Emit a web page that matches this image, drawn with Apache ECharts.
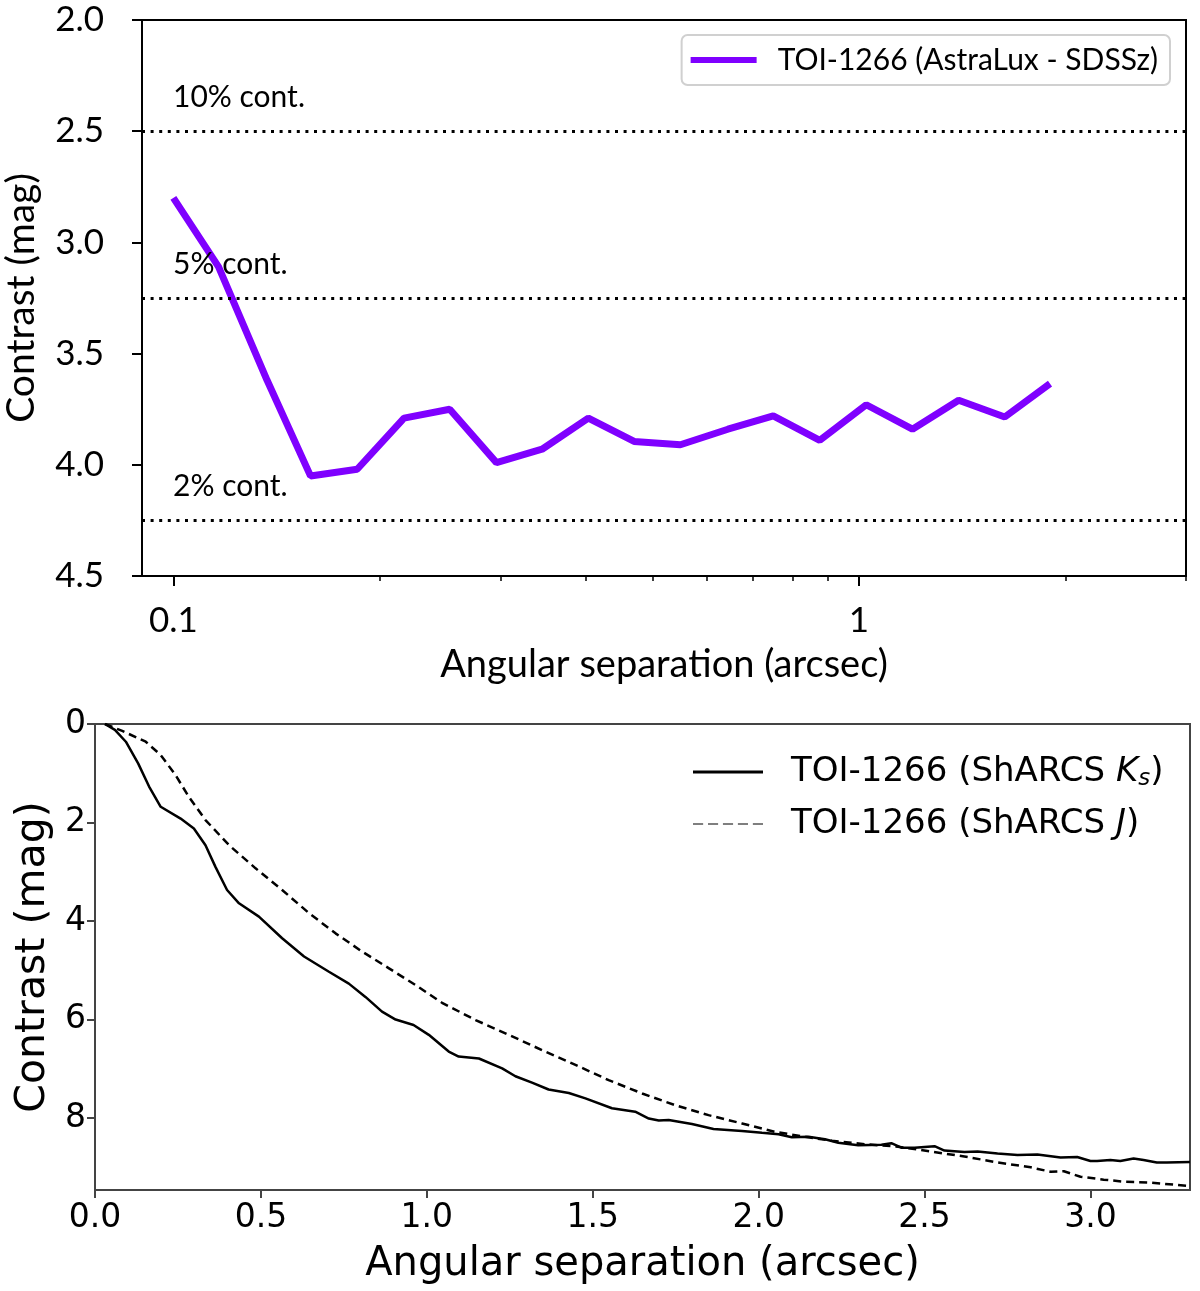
<!DOCTYPE html>
<html>
<head>
<meta charset="utf-8">
<script src="https://cdn.jsdelivr.net/npm/echarts@6/dist/echarts.min.js"></script>
<style>
html, body { margin: 0; background: #fff; }
#chart { width: 1200px; height: 1291px; }
</style>
</head>
<body>
<div id="chart"></div>
<script>
// AstraLux (top panel)
const astraSep = [0.100, 0.1164, 0.137, 0.1585, 0.1854, 0.217, 0.253, 0.296, 0.345, 0.403,
    0.470, 0.549, 0.644, 0.750, 0.877, 1.025, 1.197, 1.398, 1.632, 1.90];
const astraContrast = [2.80, 3.11, 3.62, 4.05, 4.02, 3.79, 3.75, 3.99, 3.93, 3.79,
    3.895, 3.91, 3.84, 3.78, 3.89, 3.73, 3.84, 3.71, 3.785, 3.635];
const contLevels = [2.5, 3.25, 4.25];
const contNames = ['10% cont.', '5% cont.', '2% cont.'];
const topMajorTicks = [0.1, 1];
const topMajorLabels = ['0.1', '1'];
const topMinorTicks = [0.2, 0.3, 0.4, 0.5, 0.6, 0.7, 0.8, 0.9, 2, 3];
const topYTicks = [2.0, 2.5, 3.0, 3.5, 4.0, 4.5];

// ShARCS (bottom panel)
const ksSep = [0.03, 0.06, 0.093, 0.13, 0.163, 0.198, 0.258, 0.298, 0.333, 0.363, 0.398, 0.434,
    0.494, 0.564, 0.63, 0.705, 0.765, 0.815, 0.865, 0.906, 0.96, 1.006, 1.066, 1.096, 1.157,
    1.227, 1.267, 1.317, 1.367, 1.428, 1.478, 1.558, 1.628, 1.669, 1.699, 1.729, 1.799, 1.864,
    1.95, 2.01, 2.06, 2.10, 2.15, 2.20, 2.24, 2.30, 2.37, 2.40, 2.43, 2.47, 2.53, 2.56, 2.62,
    2.66, 2.72, 2.78, 2.84, 2.91, 2.96, 3.00, 3.02, 3.06, 3.09, 3.13, 3.16, 3.20, 3.23, 3.30];
const ksContrast = [0, 0.12, 0.36, 0.80, 1.27, 1.68, 1.92, 2.12, 2.46, 2.90, 3.37, 3.64,
    3.91, 4.35, 4.72, 5.03, 5.27, 5.54, 5.84, 6.0, 6.11, 6.31, 6.65, 6.75, 6.79,
    6.99, 7.15, 7.28, 7.42, 7.49, 7.60, 7.80, 7.87, 8.01, 8.05, 8.04, 8.12, 8.22,
    8.26, 8.30, 8.33, 8.39, 8.38, 8.43, 8.50, 8.55, 8.54, 8.51, 8.60, 8.60, 8.57, 8.66, 8.69,
    8.68, 8.72, 8.75, 8.74, 8.80, 8.79, 8.87, 8.87, 8.85, 8.87, 8.82, 8.85, 8.90, 8.90, 8.89];
const jSep = [0.03, 0.082, 0.153, 0.198, 0.243, 0.283, 0.333, 0.404, 0.484, 0.564, 0.645,
    0.725, 0.805, 0.886, 0.966, 1.046, 1.147, 1.247, 1.347, 1.448, 1.548, 1.649, 1.749,
    1.849, 1.95, 2.05, 2.14, 2.22, 2.32, 2.42, 2.52, 2.62, 2.72, 2.82, 2.88, 2.92, 2.97,
    3.04, 3.10, 3.18, 3.30];
const jContrast = [0, 0.14, 0.36, 0.63, 1.04, 1.48, 1.95, 2.46, 2.93, 3.37, 3.84,
    4.25, 4.62, 4.96, 5.30, 5.66, 6.01, 6.31, 6.62, 6.92, 7.23, 7.50, 7.74,
    7.94, 8.11, 8.28, 8.38, 8.46, 8.53, 8.58, 8.68, 8.78, 8.90, 9.00, 9.09, 9.08, 9.19,
    9.25, 9.29, 9.31, 9.38];
const botXTicks = [0, 0.5, 1.0, 1.5, 2.0, 2.5, 3.0];
const botYTicks = [0, 2, 4, 6, 8];

const zip = (xs, ys) => xs.map((x, i) => [x, ys[i]]);
const topFont = 'Lato';
const botFont = 'DejaVu Sans';
// five short dashes for the J legend sample
const dashIcon = 'path://M0,0h10v1h-10z M14.75,0h10v1h-10z M29.5,0h10v1h-10z M44.25,0h10v1h-10z M59,0h10v1h-10z';

const chart = echarts.init(document.getElementById('chart'));

const option = {
    animation: false,
    backgroundColor: '#fff',
    grid: [
        { left: 142, top: 20, width: 1044, height: 556, show: true, borderColor: '#000', borderWidth: 2, outerBoundsMode: 'none' },
        { left: 95, top: 724, width: 1095, height: 466, show: true, borderColor: '#444', borderWidth: 2, outerBoundsMode: 'none' }
    ],
    legend: [
        {
            data: [{ name: 'TOI-1266 (AstraLux - SDSSz)', icon: 'rect' }],
            right: 30, top: 35,
            backgroundColor: '#fff',
            borderColor: '#d0d0d0', borderWidth: 2, borderRadius: 6,
            padding: [10, 12, 10, 9],
            itemWidth: 66, itemHeight: 6, itemGap: 10,
            textStyle: { fontFamily: topFont, fontSize: 30, color: '#000', padding: [0, 0, 0, 16] }
        },
        {
            data: [
                { name: 'TOI-1266 (ShARCS Ks)', icon: 'rect' },
                { name: 'TOI-1266 (ShARCS J)', icon: dashIcon }
            ],
            orient: 'vertical',
            left: 688, top: 750,
            itemWidth: 70, itemHeight: 2.8, itemGap: 16,
            formatter: function (name) {
                if (name.indexOf('Ks') >= 0) return 'TOI-1266 (ShARCS {i|K}{s|s})';
                return 'TOI-1266 (ShARCS {i|J})';
            },
            textStyle: {
                fontFamily: botFont, fontSize: 34, color: '#000', padding: [0, 0, 0, 23],
                rich: {
                    i: { fontFamily: botFont, fontSize: 34, fontStyle: 'italic', color: '#000' },
                    s: { fontFamily: botFont, fontSize: 23, fontStyle: 'italic', color: '#000', padding: [15, 0, 0, 0] }
                }
            }
        }
    ],
    xAxis: [
        {
            type: 'log', gridIndex: 0, logBase: 10, min: 0.09, max: 3,
            axisLine: { show: true, lineStyle: { color: '#000', width: 2 } },
            axisTick: { show: true, length: 10, lineStyle: { color: '#000', width: 2 }, customValues: topMajorTicks },
            axisLabel: {
                customValues: topMajorTicks, margin: 27, fontFamily: topFont, fontSize: 35, color: '#000',
                formatter: function (v) {
                    const k = topMajorTicks.findIndex(t => Math.abs(Math.log10(t) - Math.log10(v)) < 1e-6);
                    return k >= 0 ? topMajorLabels[k] : '';
                }
            },
            splitLine: { show: false },
            name: 'Angular separation (arcsec)', nameLocation: 'middle', nameGap: 70,
            nameTextStyle: { fontFamily: topFont, fontSize: 38, color: '#000' }
        },
        {
            type: 'log', gridIndex: 0, logBase: 10, min: 0.09, max: 3, position: 'bottom',
            axisLine: { show: false },
            axisTick: { show: true, length: 5, lineStyle: { color: '#000', width: 1.5 }, customValues: topMinorTicks },
            axisLabel: { show: false },
            splitLine: { show: false }
        },
        {
            type: 'value', gridIndex: 1, min: 0, max: 3.3,
            axisLine: { show: true, onZero: false, lineStyle: { color: '#444', width: 2 } },
            axisTick: { show: true, length: 8, lineStyle: { color: '#444', width: 2 }, customValues: botXTicks },
            axisLabel: {
                customValues: botXTicks, margin: 12, fontFamily: botFont, fontSize: 33, color: '#000',
                formatter: v => v.toFixed(1)
            },
            splitLine: { show: false },
            name: 'Angular separation (arcsec)', nameLocation: 'middle', nameGap: 55,
            nameTextStyle: { fontFamily: botFont, fontSize: 40, color: '#000' }
        }
    ],
    yAxis: [
        {
            type: 'value', gridIndex: 0, inverse: true, min: 2, max: 4.5, interval: 0.5,
            axisLine: { show: true, lineStyle: { color: '#000', width: 2 } },
            axisTick: { show: true, length: 10, lineStyle: { color: '#000', width: 2 }, customValues: topYTicks },
            axisLabel: {
                customValues: topYTicks, margin: 38, fontFamily: topFont, fontSize: 35, color: '#000',
                formatter: v => v.toFixed(1)
            },
            splitLine: { show: false },
            name: 'Contrast (mag)', nameLocation: 'middle', nameGap: 101,
            nameTextStyle: { fontFamily: topFont, fontSize: 39, color: '#000' }
        },
        {
            type: 'value', gridIndex: 1, inverse: true, min: 0, max: 9.46,
            axisLine: { show: true, onZero: false, lineStyle: { color: '#444', width: 2 } },
            axisTick: { show: true, length: 8, lineStyle: { color: '#444', width: 2 }, customValues: botYTicks },
            axisLabel: {
                customValues: botYTicks, margin: 9, fontFamily: botFont, fontSize: 33, color: '#000',
                formatter: v => String(Math.round(v))
            },
            splitLine: { show: false },
            name: 'Contrast (mag)', nameLocation: 'middle', nameGap: 40,
            nameTextStyle: { fontFamily: botFont, fontSize: 41, color: '#000' }
        }
    ],
    series: [
        {
            name: 'TOI-1266 (AstraLux - SDSSz)',
            type: 'line', xAxisIndex: 0, yAxisIndex: 0,
            data: zip(astraSep, astraContrast),
            symbol: 'none', color: '#7f00ff',
            lineStyle: { width: 7, color: '#7f00ff' },
            markLine: {
                silent: true, symbol: ['none', 'none'],
                lineStyle: { color: '#000', width: 3, type: [3, 5.6] },
                data: contLevels.map((lv, i) => ({
                    yAxis: lv,
                    label: {
                        show: true, position: 'insideStartTop', formatter: contNames[i],
                        distance: [31, 19], fontFamily: topFont, fontSize: 30, color: '#000'
                    }
                }))
            }
        },
        {
            name: 'TOI-1266 (ShARCS Ks)',
            type: 'line', xAxisIndex: 2, yAxisIndex: 1,
            data: zip(ksSep, ksContrast),
            symbol: 'none', color: '#000',
            lineStyle: { width: 2.5, color: '#000' }
        },
        {
            name: 'TOI-1266 (ShARCS J)',
            type: 'line', xAxisIndex: 2, yAxisIndex: 1,
            data: zip(jSep, jContrast),
            symbol: 'none', color: '#000',
            lineStyle: { width: 2.5, color: '#000', type: [8, 5] }
        }
    ]
};

chart.setOption(option);
</script>
</body>
</html>
